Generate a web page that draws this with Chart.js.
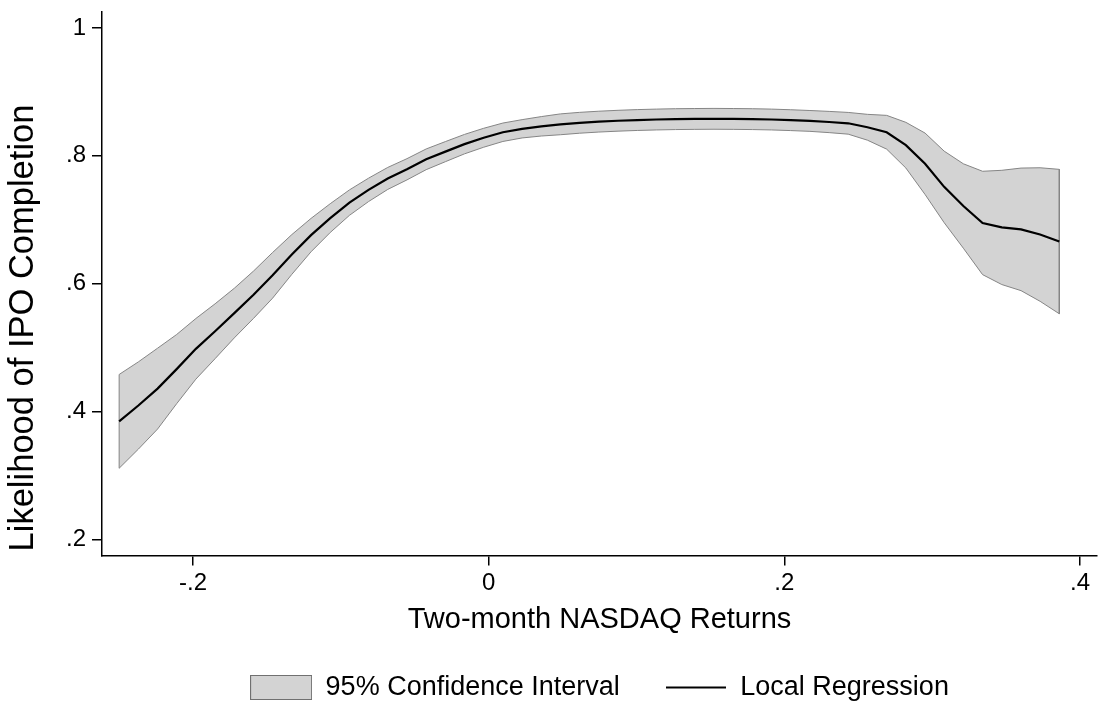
<!DOCTYPE html>
<html><head><meta charset="utf-8">
<script src="https://cdn.jsdelivr.net/npm/chart.js@4/dist/chart.umd.min.js"></script>
<style>html,body{margin:0;padding:0;background:#fff;overflow:hidden}#wrap{width:1099px;height:709px}</style>
</head><body><div id="wrap"><canvas id="c" width="1099" height="709"></canvas></div>
<script>
const returns = [-0.2500, -0.2370, -0.2240, -0.2111, -0.1981, -0.1851, -0.1721, -0.1591, -0.1462, -0.1332,
  -0.1202, -0.1072, -0.0942, -0.0813, -0.0683, -0.0553, -0.0423, -0.0293, -0.0164, -0.0034,
  0.0096, 0.0226, 0.0356, 0.0485, 0.0615, 0.0745, 0.0875, 0.1005, 0.1134, 0.1264,
  0.1394, 0.1524, 0.1654, 0.1783, 0.1913, 0.2043, 0.2173, 0.2303, 0.2432, 0.2562,
  0.2692, 0.2822, 0.2952, 0.3081, 0.3211, 0.3341, 0.3471, 0.3601, 0.3730, 0.3860];
const fitted = [0.3849, 0.4097, 0.4361, 0.4666, 0.4983, 0.5258, 0.5542, 0.5829, 0.6132, 0.6458,
  0.6761, 0.7027, 0.7269, 0.7468, 0.7647, 0.7790, 0.7946, 0.8066, 0.8183, 0.8283,
  0.8369, 0.8423, 0.8462, 0.8493, 0.8517, 0.8535, 0.8549, 0.8560, 0.8568, 0.8574,
  0.8577, 0.8579, 0.8577, 0.8574, 0.8568, 0.8558, 0.8546, 0.8529, 0.8509, 0.8447,
  0.8369, 0.8167, 0.7876, 0.7515, 0.7216, 0.6951, 0.6881, 0.6851, 0.6770, 0.6660];
const ciUpper = [0.4582, 0.4779, 0.4993, 0.5207, 0.5457, 0.5687, 0.5930, 0.6199, 0.6489, 0.6769,
  0.7022, 0.7252, 0.7468, 0.7651, 0.7819, 0.7956, 0.8108, 0.8223, 0.8335, 0.8431,
  0.8513, 0.8566, 0.8614, 0.8656, 0.8680, 0.8698, 0.8712, 0.8723, 0.8731, 0.8737,
  0.8740, 0.8742, 0.8740, 0.8737, 0.8731, 0.8721, 0.8709, 0.8695, 0.8679, 0.8649,
  0.8633, 0.8524, 0.8356, 0.8074, 0.7876, 0.7759, 0.7774, 0.7809, 0.7814, 0.7789];
const ciLower = [0.3116, 0.3415, 0.3729, 0.4125, 0.4509, 0.4829, 0.5154, 0.5459, 0.5775, 0.6147,
  0.6500, 0.6802, 0.7070, 0.7285, 0.7475, 0.7624, 0.7784, 0.7909, 0.8031, 0.8135,
  0.8225, 0.8280, 0.8310, 0.8330, 0.8354, 0.8372, 0.8386, 0.8397, 0.8405, 0.8411,
  0.8414, 0.8416, 0.8414, 0.8411, 0.8405, 0.8395, 0.8383, 0.8363, 0.8339, 0.8245,
  0.8105, 0.7810, 0.7396, 0.6956, 0.6556, 0.6143, 0.5988, 0.5893, 0.5726, 0.5531];
const xTicks = [-0.2, 0, 0.2, 0.4];
const yTicks = [0.2, 0.4, 0.6, 0.8, 1];
const seriesLabels = ['95% Confidence Interval', 'Local Regression'];
const xTitle = 'Two-month NASDAQ Returns';
const yTitle = 'Likelihood of IPO Completion';

const FONT = '"Liberation Sans", Arial, Helvetica, sans-serif';
const BAND_FILL = '#d3d3d3';
const BAND_EDGE = '#858585';

Chart.defaults.font.family = FONT;
Chart.defaults.color = '#000';

function fmt(v) {
  if (v === 0) return '0';
  const s = String(Math.abs(v)).replace(/^0(?=\.)/, '');
  return (v < 0 ? '-' : '') + s;
}

const bandPoly = returns.map((x, i) => ({x: x, y: ciUpper[i]}))
  .concat(returns.map((x, i) => ({x: x, y: ciLower[i]})).reverse());
bandPoly.push({x: returns[0], y: ciUpper[0]});
const linePts = returns.map((x, i) => ({x: x, y: fitted[i]}));

function swatch(w, h, draw) {
  const c = document.createElement('canvas');
  c.width = w; c.height = h;
  draw(c.getContext('2d'));
  return c;
}
const swatches = [
  swatch(62, 25, g => {
    g.fillStyle = BAND_FILL; g.fillRect(0.5, 0.5, 61, 24);
    g.strokeStyle = '#707070'; g.lineWidth = 1; g.strokeRect(0.5, 0.5, 61, 24);
  }),
  swatch(60, 4, g => { g.fillStyle = '#000'; g.fillRect(0, 1, 60, 2); })
];

const yTitlePlugin = {
  id: 'yTitlePlugin',
  afterDraw(chart) {
    const ctx = chart.ctx;
    ctx.save();
    ctx.translate(23.5, 328);
    ctx.rotate(-Math.PI / 2);
    ctx.font = '34.5px ' + FONT;
    ctx.fillStyle = '#000';
    ctx.textAlign = 'center';
    ctx.textBaseline = 'middle';
    ctx.fillText(yTitle, 0, 0);
    ctx.restore();
  }
};

new Chart(document.getElementById('c'), {
  type: 'line',
  data: {
    datasets: [
      {
        label: seriesLabels[0],
        data: bandPoly,
        fill: 'shape',
        backgroundColor: BAND_FILL,
        borderColor: BAND_EDGE,
        borderWidth: 1,
        pointRadius: 0,
        tension: 0,
        order: 1
      },
      {
        label: seriesLabels[1],
        data: linePts,
        fill: false,
        borderColor: '#000',
        backgroundColor: '#000',
        borderWidth: 2.2,
        pointRadius: 0,
        tension: 0,
        order: 0
      }
    ]
  },
  options: {
    responsive: false,
    animation: false,
    devicePixelRatio: 1,
    layout: {padding: {left: 0, right: 2, top: 9, bottom: -2}},
    plugins: {
      tooltip: {enabled: false},
      legend: {
        display: true,
        position: 'bottom',
        fullSize: false,
        labels: {
          usePointStyle: true,
          pointStyleWidth: 62,
          boxHeight: 27,
          padding: 45,
          color: '#000',
          font: {size: 27, family: FONT},
          sort: (a, b) => a.datasetIndex - b.datasetIndex,
          generateLabels(chart) {
            const items = Chart.defaults.plugins.legend.labels.generateLabels(chart);
            items.forEach(it => { it.pointStyle = swatches[it.datasetIndex]; });
            return items;
          }
        }
      }
    },
    scales: {
      x: {
        type: 'linear',
        position: 'bottom',
        min: -0.2616,
        max: 0.4115,
        afterBuildTicks: s => { s.ticks = xTicks.map(v => ({value: v})); },
        afterFit: s => { s.height = 73.5; },
        ticks: {
          callback: v => fmt(v),
          autoSkip: false, maxRotation: 0, minRotation: 0,
          padding: 3,
          color: '#000',
          font: {size: 24, family: FONT}
        },
        grid: {drawOnChartArea: false, drawTicks: true, tickLength: 10, color: '#000', lineWidth: 1.5},
        border: {display: true, color: '#000', width: 1.5},
        title: {
          display: true, text: xTitle, color: '#000',
          font: {size: 29, family: FONT, lineHeight: 0.6},
          padding: {top: 0, bottom: 0}
        }
      },
      y: {
        type: 'linear',
        position: 'left',
        min: 0.1752,
        max: 1.0249,
        afterBuildTicks: s => { s.ticks = yTicks.map(v => ({value: v})); },
        afterFit: s => { s.width = 102; },
        ticks: {
          callback: v => fmt(v),
          autoSkip: false,
          padding: 6,
          color: '#000',
          font: {size: 24, family: FONT, lineHeight: 0.5}
        },
        grid: {drawOnChartArea: false, drawTicks: true, tickLength: 10, color: '#000', lineWidth: 1.5},
        border: {display: true, color: '#000', width: 1.5},
        title: {display: false}
      }
    }
  },
  plugins: [yTitlePlugin]
});
</script>
</body></html>
